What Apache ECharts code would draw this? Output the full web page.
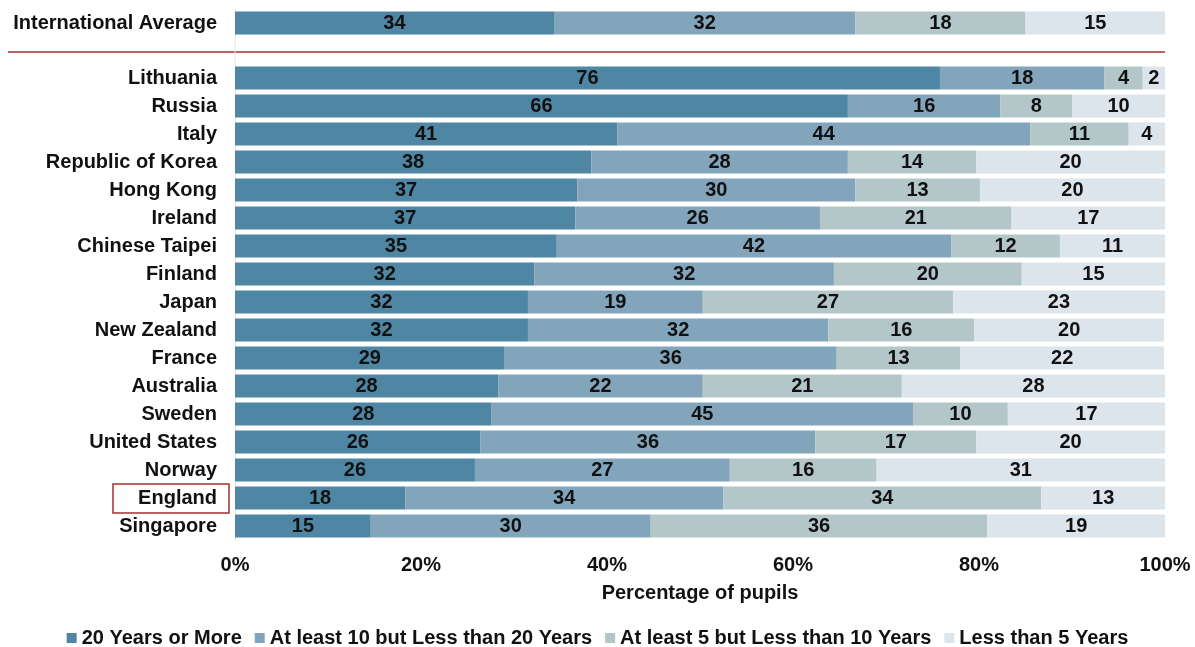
<!DOCTYPE html>
<html>
<head>
<meta charset="utf-8">
<script src="https://cdn.jsdelivr.net/npm/echarts@6/dist/echarts.min.js"></script>
<style>
html,body{margin:0;padding:0;background:#fff;}
#chart{width:1195px;height:647px;}
</style>
</head>
<body>
<div id="chart"></div>
<script>
const seriesNames = ['20 Years or More', 'At least 10 but Less than 20 Years', 'At least 5 but Less than 10 Years', 'Less than 5 Years'];
const colors = ['#4e86a3', '#82a5bc', '#b3c7c9', '#dce5eb'];

const avgCategory = ['International Average'];
const avg20 = [34.3];
const avg10 = [32.4];
const avg5 = [18.3];
const avgLess5 = [15.1];

const countries = ['Lithuania', 'Russia', 'Italy', 'Republic of Korea', 'Hong Kong', 'Ireland', 'Chinese Taipei', 'Finland', 'Japan', 'New Zealand', 'France', 'Australia', 'Sweden', 'United States', 'Norway', 'England', 'Singapore'];
const years20 = [75.8, 65.9, 41.1, 38.3, 36.8, 36.6, 34.6, 32.2, 31.5, 31.5, 29.0, 28.3, 27.6, 26.4, 25.8, 18.3, 14.6];
const years10 = [17.7, 16.4, 44.4, 27.6, 29.9, 26.3, 42.4, 32.2, 18.8, 32.3, 35.7, 22.0, 45.3, 36.0, 27.4, 34.2, 30.1];
const years5 = [4.1, 7.7, 10.6, 13.8, 13.4, 20.6, 11.7, 20.2, 26.9, 15.7, 13.3, 21.4, 10.2, 17.3, 15.8, 34.2, 36.2];
const yearsLess5 = [2.4, 10.0, 3.9, 20.3, 19.9, 16.5, 11.3, 15.4, 22.8, 20.4, 21.9, 28.3, 16.9, 20.3, 31.0, 13.3, 19.1];

const xTicks = [0, 20, 40, 60, 80, 100];

const FONT = '"Liberation Sans", Arial, sans-serif';
const FS = 20;

const chart = echarts.init(document.getElementById('chart'));

function mkSeries(name, data, color, idx, stack) {
  return {
    name: name,
    type: 'bar',
    stack: stack,
    xAxisIndex: idx,
    yAxisIndex: idx,
    data: data,
    barCategoryGap: '18%',
    itemStyle: { color: color },
    label: {
      show: true,
      position: 'inside',
      color: '#111',
      fontWeight: 'bold',
      fontSize: FS,
      fontFamily: FONT,
      formatter: p => Math.round(p.value)
    },
    emphasis: { disabled: true }
  };
}

const avgData = [avg20, avg10, avg5, avgLess5];
const mainData = [years20, years10, years5, yearsLess5];

const series = [];
seriesNames.forEach((n, i) => series.push(mkSeries(n, avgData[i], colors[i], 0, 'avg')));
seriesNames.forEach((n, i) => series.push(mkSeries(n, mainData[i], colors[i], 1, 'main')));

const catLabel = {
  color: '#111',
  fontWeight: 'bold',
  fontSize: FS,
  fontFamily: FONT,
  margin: 18
};

chart.setOption({
  animation: false,
  backgroundColor: '#fff',
  textStyle: { fontFamily: FONT },
  grid: [
    { left: 235, right: 30, top: 9, height: 28 },
    { left: 235, right: 30, top: 64, height: 476 }
  ],
  xAxis: [
    { gridIndex: 0, type: 'value', min: 0, max: 100, show: false },
    {
      gridIndex: 1, type: 'value', min: 0, max: 100, interval: 20,
      axisLine: { show: false }, axisTick: { show: false }, splitLine: { show: false },
      axisLabel: { color: '#111', fontWeight: 'bold', fontSize: FS, fontFamily: FONT, margin: 15, formatter: v => v + '%' },
      name: 'Percentage of pupils', nameLocation: 'middle', nameGap: 43,
      nameTextStyle: { color: '#111', fontWeight: 'bold', fontSize: FS, fontFamily: FONT }
    }
  ],
  yAxis: [
    {
      gridIndex: 0, type: 'category', data: avgCategory, inverse: true,
      axisLine: { show: true, lineStyle: { color: '#e4e4e4', width: 1 } },
      axisTick: { show: false }, axisLabel: catLabel
    },
    {
      gridIndex: 1, type: 'category', data: countries, inverse: true,
      axisLine: { show: true, lineStyle: { color: '#e4e4e4', width: 1 } },
      axisTick: { show: false }, axisLabel: catLabel
    }
  ],
  legend: {
    data: seriesNames,
    top: 623,
    left: 'center',
    itemWidth: 10,
    itemHeight: 10,
    itemGap: 13,
    icon: 'rect',
    textStyle: { color: '#111', fontWeight: 'bold', fontSize: FS, fontFamily: FONT }
  },
  graphic: [
    { type: 'line', shape: { x1: 8, y1: 52, x2: 1165, y2: 52 }, style: { stroke: '#a3302c', lineWidth: 1.6 } },
    { type: 'line', shape: { x1: 235, y1: 37, x2: 235, y2: 64 }, style: { stroke: '#e4e4e4', lineWidth: 1 } },
    { type: 'rect', shape: { x: 113, y: 484, width: 116, height: 29 }, style: { fill: 'none', stroke: '#a3302c', lineWidth: 1.5 } }
  ],
  series: series
});
</script>
</body>
</html>
